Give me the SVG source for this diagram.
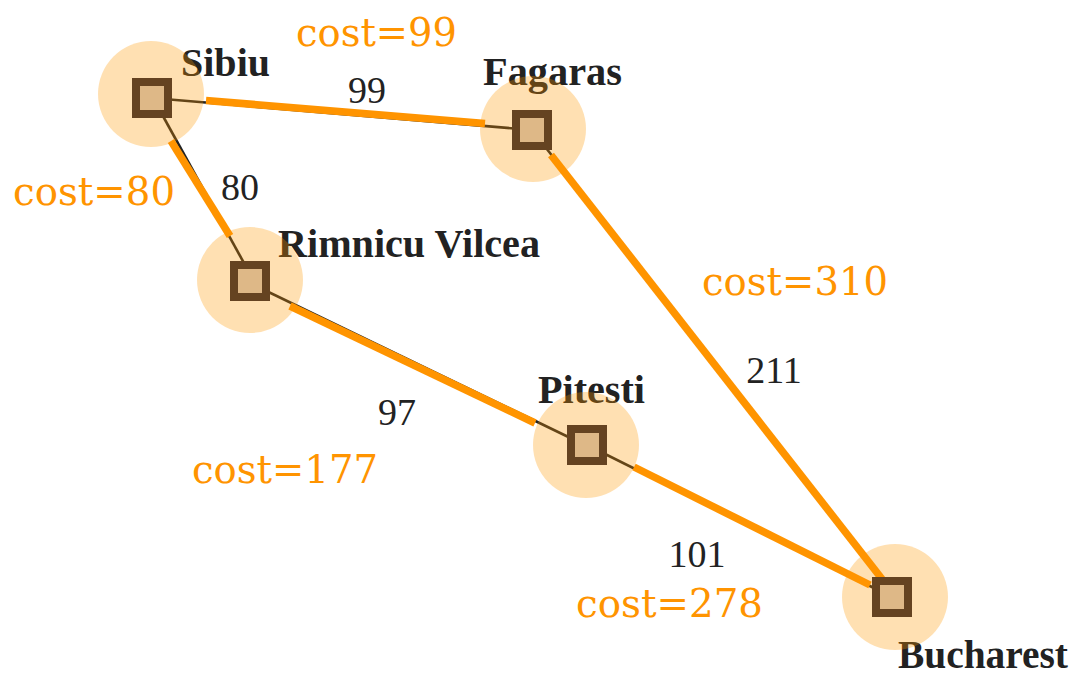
<svg xmlns="http://www.w3.org/2000/svg" width="1079" height="674" viewBox="0 0 1079 674">
<style>
.edge{stroke:#222;stroke-width:2.6;fill:none}
.path{stroke:#ff9400;stroke-width:7.5;fill:none;stroke-linecap:butt}
.halo{fill:#ff9900;fill-opacity:0.3}
.box{fill:#deb887;stroke:#654321;stroke-width:8}
.name{font-family:"Liberation Serif",serif;font-weight:bold;font-size:40px;fill:#222}
.w{font-family:"Liberation Serif",serif;font-size:38px;fill:#222;text-anchor:middle}
.cost{font-family:"DejaVu Serif","Liberation Serif",serif;font-size:40px;fill:#ff9400}
</style>
<rect width="1079" height="674" fill="#fff"/>
<g id="connectors">
<line class="edge" x1="152" y1="98" x2="532" y2="130"/>
<line class="edge" x1="153" y1="98" x2="255" y2="283"/>
<line class="edge" x1="250" y1="283" x2="587" y2="446"/>
<line class="edge" x1="587" y1="445" x2="892" y2="597"/>
<line class="edge" x1="532" y1="130" x2="893" y2="592"/>
</g>
<g id="labels">
<text class="name" x="181" y="76" textLength="89" lengthAdjust="spacingAndGlyphs">Sibiu</text>
<text class="name" x="483" y="85" textLength="139" lengthAdjust="spacingAndGlyphs">Fagaras</text>
<text class="name" x="278" y="257" textLength="262" lengthAdjust="spacingAndGlyphs">Rimnicu Vilcea</text>
<text class="name" x="538" y="403" textLength="107" lengthAdjust="spacingAndGlyphs">Pitesti</text>
<text class="name" x="898" y="668" textLength="170" lengthAdjust="spacingAndGlyphs">Bucharest</text>
</g>
<g id="halos">
<circle class="halo" cx="151" cy="94" r="53"/>
<circle class="halo" cx="533" cy="129" r="53"/>
<circle class="halo" cx="250" cy="280" r="53"/>
<circle class="halo" cx="586" cy="445" r="53"/>
<circle class="halo" cx="895" cy="597" r="53"/>
</g>
<g id="path-edges">
<line class="path" x1="206" y1="100.5" x2="485" y2="123.5"/>
<line class="path" x1="171" y1="141" x2="230" y2="236"/>
<line class="path" x1="290" y1="306" x2="535" y2="423"/>
<line class="path" x1="634" y1="467" x2="870" y2="585"/>
<line class="path" x1="551" y1="155" x2="882" y2="579"/>
</g>
<g id="node-sibiu"><rect class="box" x="136" y="82" width="32" height="32"/></g>
<g id="node-fagaras"><rect class="box" x="516" y="114" width="32" height="32"/></g>
<g id="node-rimnicu"><rect class="box" x="234" y="265" width="32" height="32"/></g>
<g id="node-pitesti"><rect class="box" x="571" y="429" width="32" height="32"/></g>
<g id="node-bucharest"><rect class="box" x="876" y="581" width="32" height="32"/></g>
<g id="weights">
<text class="w" x="367" y="103">99</text>
<text class="w" x="240" y="200">80</text>
<text class="w" x="397" y="425">97</text>
<text class="w" x="697" y="567">101</text>
<text class="w" x="774" y="383">211</text>
</g>
<g id="costs">
<text class="cost" x="296" y="46" textLength="161" lengthAdjust="spacingAndGlyphs">cost=99</text>
<text class="cost" x="13" y="205" textLength="162" lengthAdjust="spacingAndGlyphs">cost=80</text>
<text class="cost" x="702" y="295" textLength="186" lengthAdjust="spacingAndGlyphs">cost=310</text>
<text class="cost" x="192" y="483" textLength="186" lengthAdjust="spacingAndGlyphs">cost=177</text>
<text class="cost" x="576" y="617" textLength="187" lengthAdjust="spacingAndGlyphs">cost=278</text>
</g>
</svg>
